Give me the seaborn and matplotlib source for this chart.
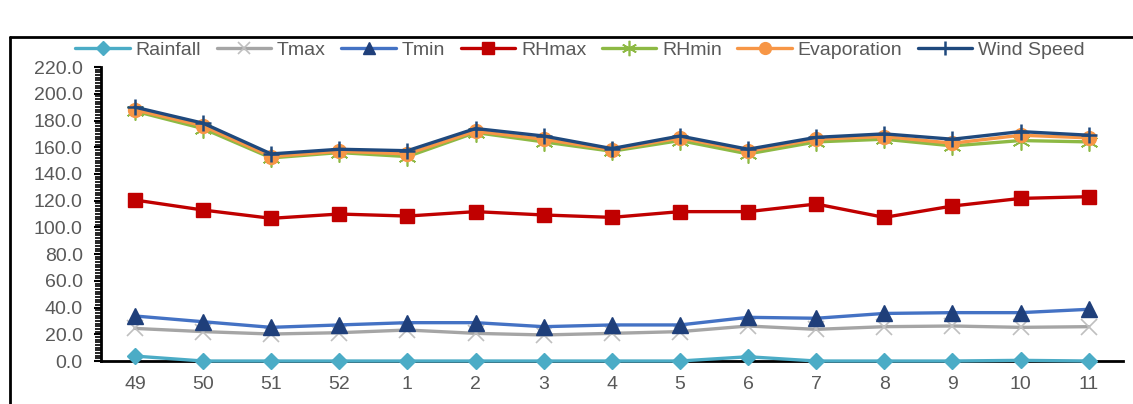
import numpy as np
import pandas as pd
import matplotlib.pyplot as plt
import seaborn as sns
from matplotlib.lines import Line2D
from matplotlib.ticker import MultipleLocator

# week labels along the x axis
weeks = ['49', '50', '51', '52', '1', '2', '3', '4', '5', '6', '7', '8', '9', '10', '11']

rainfall = [3.7, 0.0, 0.0, 0.0, 0.0, 0.0, 0.0, 0.0, 0.0, 3.2, 0.0, 0.0, 0.0, 0.5, 0.0]
tmax = [24.4, 22.0, 20.2, 21.2, 23.2, 20.7, 19.5, 20.7, 22.0, 26.2, 23.7, 25.7, 26.2, 25.2, 25.7]
tmin = [33.7, 29.4, 25.2, 27.0, 28.7, 28.7, 25.7, 27.0, 27.0, 32.7, 32.0, 35.6, 36.2, 36.2, 38.7]
rhmax = [120.5, 113.0, 106.8, 110.0, 108.5, 111.8, 109.3, 107.5, 111.8, 111.8, 117.5, 107.5, 116.0, 121.7, 123.0]
rhmin = [187.0, 174.0, 152.0, 156.0, 153.0, 171.0, 164.0, 157.0, 165.0, 155.0, 164.0, 166.0, 161.0, 165.0, 164.0]
evaporation = [188.0, 176.0, 153.0, 157.0, 155.0, 172.0, 166.0, 158.0, 167.0, 157.0, 166.0, 168.0, 163.0, 169.0, 167.0]
wind_speed = [190.0, 178.0, 155.0, 158.5, 157.4, 174.0, 168.4, 159.0, 168.4, 158.5, 167.4, 170.0, 166.0, 171.7, 169.0]

series = {
    'Rainfall': rainfall,
    'Tmax': tmax,
    'Tmin': tmin,
    'RHmax': rhmax,
    'RHmin': rhmin,
    'Evaporation': evaporation,
    'Wind Speed': wind_speed,
}

# line colour, marker, marker colour, marker size, marker edge width
styles = {
    'Rainfall': ('#4BACC6', 'D', '#4BACC6', 8, 1),
    'Tmax': ('#A5A5A5', 'x', '#BFBFBF', 11, 1.2),
    'Tmin': ('#4472C4', '^', '#1F3F7A', 11, 1),
    'RHmax': ('#C00000', 's', '#C00000', 10, 1),
    'RHmin': ('#8DB944', (6, 2, 0), '#8DB944', 13, 1.2),
    'Evaporation': ('#F79646', 'o', '#F79646', 10, 1),
    'Wind Speed': ('#1F497D', '+', '#1F497D', 12, 1.8),
}

x = np.arange(len(weeks))
df = pd.DataFrame({'x': np.tile(x, len(series)),
                   'value': np.concatenate([series[k] for k in series]),
                   'series': np.repeat(list(series.keys()), len(weeks))})

sns.set_style('white')
plt.rcParams['font.family'] = ['Liberation Sans', 'DejaVu Sans']

fig = plt.figure(figsize=(11.33, 4.04), dpi=100)
ax = fig.add_axes([0.089, 0.1064, 0.902, 0.7276])

for name in series:
    color, marker, mcolor, ms, mew = styles[name]
    sub = df[df['series'] == name]
    sns.lineplot(data=sub, x='x', y='value', ax=ax, color=color, linewidth=2.4,
                 marker=marker, markersize=ms, markerfacecolor=mcolor,
                 markeredgecolor=mcolor, markeredgewidth=mew,
                 label=name, zorder=3, clip_on=False)

ax.set_xlim(-0.5, 14.5)
ax.set_ylim(0, 220)
ax.set_xticks(x)
ax.set_xticklabels(weeks)
ax.yaxis.set_major_locator(MultipleLocator(20))
ax.yaxis.set_minor_locator(MultipleLocator(2))
ax.yaxis.set_major_formatter(plt.FuncFormatter(lambda v, p: f'{v:.1f}'))
ax.set_xlabel('')
ax.set_ylabel('')

for s in ['top', 'right']:
    ax.spines[s].set_visible(False)
for s in ['left', 'bottom']:
    ax.spines[s].set_color('black')
    ax.spines[s].set_linewidth(2)
    ax.spines[s].set_zorder(2)

ax.tick_params(axis='y', which='major', left=True, length=5, width=1.5,
               color='black', labelsize=14, labelcolor='#595959', pad=8)
ax.tick_params(axis='y', which='minor', left=True, length=4, width=1.2, color='black')
ax.tick_params(axis='x', length=0, labelsize=14, labelcolor='#595959', pad=11)

handles, labels = ax.get_legend_handles_labels()
ax.legend(handles, labels, ncol=7, loc='center', bbox_to_anchor=(0.512, 0.876),
          bbox_transform=fig.transFigure, frameon=False, fontsize=14,
          handlelength=2.8, handletextpad=0.3, columnspacing=0.8,
          labelcolor='#595959', markerscale=0.85)

# outer frame lines (top and left) like the screenshot crop
fig.add_artist(Line2D([10 / 1133, 10 / 1133], [0, 1 - 37 / 404], transform=fig.transFigure,
                      color='black', linewidth=2))
fig.add_artist(Line2D([10 / 1133, 1], [1 - 37 / 404, 1 - 37 / 404], transform=fig.transFigure,
                      color='black', linewidth=2))

plt.savefig('out.png', dpi=100)
plt.close()
